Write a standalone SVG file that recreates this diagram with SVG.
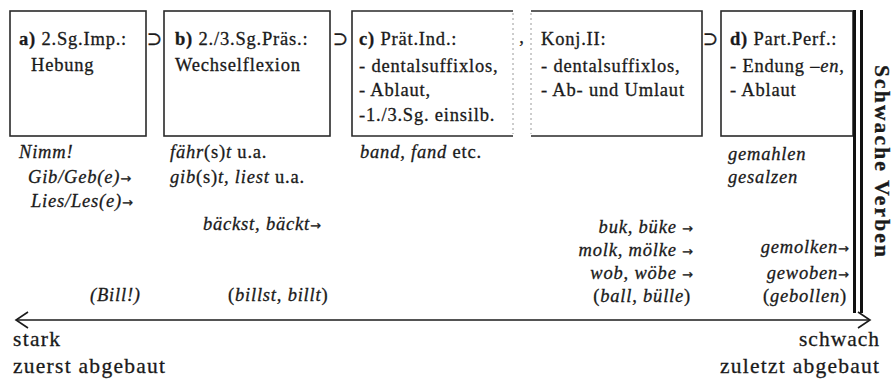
<svg xmlns="http://www.w3.org/2000/svg" width="895" height="380" viewBox="0 0 895 380">
  <style>
    .t { font-family: "Liberation Serif", "DejaVu Serif", serif; font-size: 18.5px; fill: #1a1a1a; stroke: #1a1a1a; stroke-width: 0.3; letter-spacing: 0.8px; }
    .i { font-style: italic; }
    .b { font-weight: bold; }
    .ar { font-family: "DejaVu Sans", sans-serif; font-style: normal; font-size: 13px; letter-spacing: 0; }
    .lbl { font-size: 21.5px; letter-spacing: 0; }
    .box { fill: #ffffff; stroke: #2a2a2a; stroke-width: 1.6; }
    .edge { fill: none; stroke: #2a2a2a; stroke-width: 1.6; }
    .faint { fill: none; stroke: #9a9a9a; stroke-width: 1; stroke-dasharray: 2 3; }
    .bar { fill: none; stroke: #111; stroke-width: 3; }
    .axis { fill: none; stroke: #1a1a1a; stroke-width: 1.6; }
  </style>

  <!-- a) imperative -->
  <g id="node-a">
    <rect class="box" x="10" y="11" width="136" height="125"/>
    <text class="t" x="19" y="45"><tspan class="b">a)</tspan> 2.Sg.Imp.:</text>
    <text class="t" x="31" y="71">Hebung</text>
    <text class="t i" x="19" y="158">Nimm!</text>
    <text class="t i" x="28" y="183">Gib/Geb(e)<tspan class="ar">→</tspan></text>
    <text class="t i" x="31" y="207">Lies/Les(e)<tspan class="ar">→</tspan></text>
    <text class="t i" x="90" y="301">(Bill!)</text>
  </g>

  <!-- b) present -->
  <g id="node-b">
    <rect class="box" x="164" y="11" width="166" height="125"/>
    <text class="t" x="175" y="45"><tspan class="b">b)</tspan> 2./3.Sg.Präs.:</text>
    <text class="t" x="175" y="71">Wechselflexion</text>
    <text class="t" x="170" y="158"><tspan class="i">fähr</tspan>(s)<tspan class="i">t</tspan> u.a.</text>
    <text class="t" x="170" y="183"><tspan class="i">gib</tspan>(s)<tspan class="i">t, liest</tspan> u.a.</text>
    <text class="t i" x="203" y="230">bäckst, bäckt<tspan class="ar">→</tspan></text>
    <text class="t" x="228" y="301">(<tspan class="i">billst, billt</tspan>)</text>
  </g>

  <!-- c) preterite indicative -->
  <g id="node-c">
    <rect x="352" y="11" width="161" height="125" fill="#ffffff"/>
    <polyline class="edge" points="513,11 352,11 352,136 513,136"/>
    <line class="faint" x1="513" y1="13" x2="513" y2="134"/>
    <text class="t" x="359" y="45"><tspan class="b">c)</tspan> Prät.Ind.:</text>
    <text class="t" x="359" y="72">- dentalsuffixlos,</text>
    <text class="t" x="359" y="96">- Ablaut,</text>
    <text class="t" x="359" y="121">-1./3.Sg. einsilb.</text>
    <text class="t" x="360" y="158"><tspan class="i">band, fand</tspan> etc.</text>
  </g>

  <!-- subjunctive II -->
  <g id="node-konj">
    <rect x="531" y="11" width="171" height="125" fill="#ffffff"/>
    <polyline class="edge" points="531,11 702,11 702,136 531,136"/>
    <line class="faint" x1="531" y1="13" x2="531" y2="134"/>
    <text class="t" x="541" y="45">Konj.II:</text>
    <text class="t" x="541" y="72">- dentalsuffixlos,</text>
    <text class="t" x="541" y="96">- Ab- und Umlaut</text>
    <text class="t i" x="693" y="233" text-anchor="end">buk, büke <tspan class="ar">→</tspan></text>
    <text class="t i" x="693" y="256" text-anchor="end">molk, mölke <tspan class="ar">→</tspan></text>
    <text class="t i" x="693" y="279" text-anchor="end">wob, wöbe <tspan class="ar">→</tspan></text>
    <text class="t" x="691" y="302" text-anchor="end">(<tspan class="i">ball, bülle</tspan>)</text>
  </g>

  <!-- d) past participle -->
  <g id="node-d">
    <rect class="box" x="721" y="11" width="132" height="125"/>
    <text class="t" x="730" y="45"><tspan class="b">d)</tspan> Part.Perf.:</text>
    <text class="t" x="730" y="72">- Endung –<tspan class="i">en</tspan>,</text>
    <text class="t" x="730" y="96">- Ablaut</text>
    <text class="t i" x="728" y="160">gemahlen</text>
    <text class="t i" x="728" y="183">gesalzen</text>
    <text class="t i" x="849" y="253" text-anchor="end">gemolken<tspan class="ar">→</tspan></text>
    <text class="t i" x="849" y="279" text-anchor="end">gewoben<tspan class="ar">→</tspan></text>
    <text class="t" x="847" y="302" text-anchor="end">(<tspan class="i">gebollen</tspan>)</text>
  </g>

  <!-- inclusion marks between the forms -->
  <g id="relations">
    <text class="t" x="155" y="45" text-anchor="middle">⊃</text>
    <text class="t" x="341" y="45" text-anchor="middle">⊃</text>
    <text class="t" x="522" y="43" text-anchor="middle">,</text>
    <text class="t" x="711" y="45" text-anchor="middle">⊃</text>
  </g>

  <!-- weak-verb boundary -->
  <g id="node-weak">
    <line class="bar" x1="854.5" y1="10" x2="854.5" y2="313"/>
    <line class="bar" x1="861.5" y1="10" x2="861.5" y2="313"/>
    <text class="t b lbl" transform="translate(875,65) rotate(90)" textLength="192" lengthAdjust="spacing">Schwache Verben</text>
  </g>

  <!-- strong-weak scale -->
  <g id="connectors">
    <line class="axis" x1="16" y1="320" x2="870" y2="320"/>
    <polyline class="axis" points="28,312 16,320 28,328"/>
    <polyline class="axis" points="858,312 870,320 858,328"/>
  </g>
  <g id="scale-labels">
    <text class="t lbl" x="13" y="346" textLength="47" lengthAdjust="spacing">stark</text>
    <text class="t lbl" x="13" y="373" textLength="152" lengthAdjust="spacing">zuerst abgebaut</text>
    <text class="t lbl" x="799" y="346" textLength="80" lengthAdjust="spacing">schwach</text>
    <text class="t lbl" x="720" y="373" textLength="159" lengthAdjust="spacing">zuletzt abgebaut</text>
  </g>
</svg>
